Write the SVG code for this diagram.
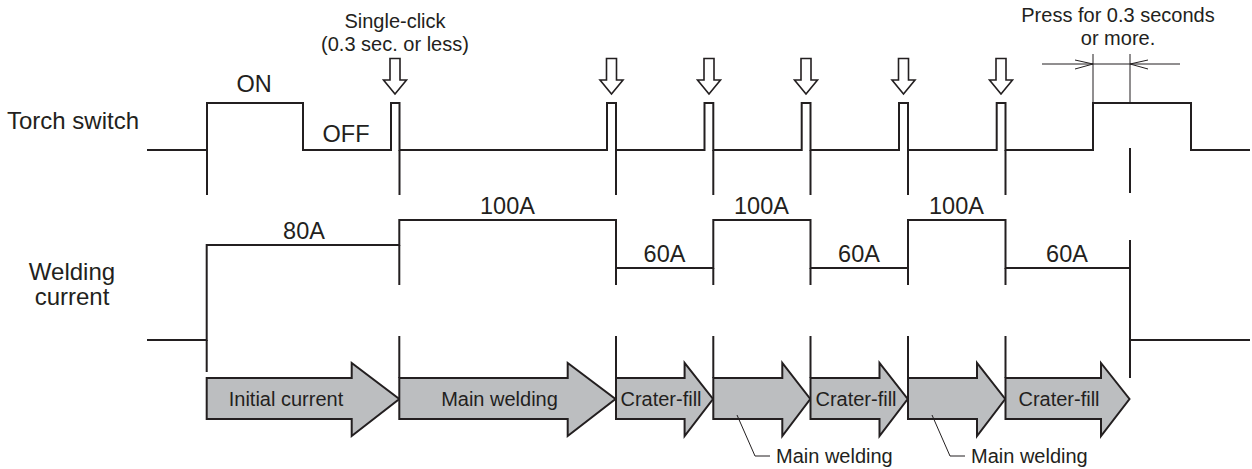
<svg xmlns="http://www.w3.org/2000/svg" width="1252" height="469" viewBox="0 0 1252 469">
<style>
.ln{fill:none;stroke:#231f20;stroke-width:2}
.th{fill:none;stroke:#231f20;stroke-width:1}
.t{font-family:"Liberation Sans",Arial,sans-serif;font-size:20px;fill:#231f20}
.big{font-size:23.5px}
.lab{font-family:"Liberation Sans",Arial,sans-serif;font-size:24px;fill:#231f20}
.m{text-anchor:middle}
.ar{fill:#bcbec0;stroke:#231f20;stroke-width:2;stroke-linejoin:miter}
.dn{fill:#fff;stroke:#231f20;stroke-width:1.6}
</style>
<defs>
<path id="down" d="M-5,58.5 H5 V80 H11.5 L0,94 L-11.5,80 H-5 Z" class="dn"/>
</defs>
<rect width="1252" height="469" fill="#fff"/>
<g id="labels">
<text class="lab" x="7" y="129">Torch switch</text>
<text class="lab m" x="72" y="280">Welding</text>
<text class="lab m" x="72" y="305">current</text>
</g>
<g id="torch-switch">
<path class="ln" d="M147,150 H207 V103 H303 V150 H391 V103 H399.5 V150 H607 V103 H616 V150 H704.5 V103 H713.3 V150 H801.7 V103 H810.5 V150 H899 V103 H908 V150 H996.7 V103 H1005.5 V150 H1093 V103 H1191 V150 H1250"/>
<text class="t big m" x="254" y="92">ON</text>
<text class="t big m" x="346" y="142">OFF</text>
</g>
<g id="click-arrows">
<use href="#down" x="395" y="0"/>
<use href="#down" x="611.5" y="0"/>
<use href="#down" x="709" y="0"/>
<use href="#down" x="806" y="0"/>
<use href="#down" x="903.5" y="0"/>
<use href="#down" x="1001" y="0"/>
<text class="t m" x="395" y="28">Single-click</text>
<text class="t m" x="395" y="51">(0.3 sec. or less)</text>
</g>
<g id="long-press">
<text class="t m" x="1118" y="22">Press for 0.3 seconds</text>
<text class="t m" x="1118" y="45">or more.</text>
<path class="th" d="M1093,54 V103 M1130,54 V103 M1042,64 H1180 M1075,60 L1093,64 L1075,69 M1148,60 L1130,64 L1148,69"/>
</g>
<g id="ticks">
<path class="ln" d="M207,150 V195 M399.5,150 V195 M616,150 V195 M713.3,150 V195 M810.5,150 V195 M908,150 V195 M1005.5,150 V195 M1130,148 V193"/>
</g>
<g id="welding-current">
<path class="ln" d="M147,340 H206.7 V245 H399.3 V220 H616 V268 H713.3 V220 H810.5 V268 H908 V220 H1005.5 V268 H1130 V340 H1250"/>
<path class="ln" d="M206.7,340 V372 M399.3,245 V285 M616,268 V285 M713.3,268 V285 M810.5,268 V285 M908,268 V285 M1005.5,268 V285 M1130,240 V268 M1130,340 V378"/>
<path class="ln" d="M399.3,336 V378 M616,336 V378 M713.3,336 V378 M810.5,336 V378 M908,336 V378 M1005.5,336 V378"/>
<text class="t big m" x="304" y="239">80A</text>
<text class="t big m" x="507.5" y="214">100A</text>
<text class="t big m" x="761.5" y="214">100A</text>
<text class="t big m" x="956.5" y="214">100A</text>
<text class="t big m" x="664.5" y="262">60A</text>
<text class="t big m" x="859" y="262">60A</text>
<text class="t big m" x="1067" y="262">60A</text>
</g>
<g id="phase-initial">
<polygon class="ar" points="206.7,378 351.7,378 351.7,363 399.3,399 351.7,436 351.7,419 206.7,419"/>
<text class="t m" x="286" y="406">Initial current</text>
</g>
<g id="phase-main1">
<polygon class="ar" points="399.3,378 567.7,378 567.7,363 615.5,399 567.7,436 567.7,419 399.3,419"/>
<text class="t m" x="499.5" y="406">Main welding</text>
</g>
<g id="phase-crater1">
<polygon class="ar" points="616,378 684.6,378 684.6,363 713,399 684.6,436 684.6,419 616,419"/>
<text class="t m" x="661" y="406">Crater-fill</text>
</g>
<g id="phase-main2">
<polygon class="ar" points="713.3,378 782.3,378 782.3,363 810.3,399 782.3,436 782.3,419 713.3,419"/>
</g>
<g id="phase-crater2">
<polygon class="ar" points="810.5,378 879.5,378 879.5,363 907.7,399 879.5,436 879.5,419 810.5,419"/>
<text class="t m" x="856" y="406">Crater-fill</text>
</g>
<g id="phase-main3">
<polygon class="ar" points="908,378 977,378 977,363 1005.2,399 977,436 977,419 908,419"/>
</g>
<g id="phase-crater3">
<polygon class="ar" points="1005.5,378 1101,378 1101,363 1129.5,399 1101,436 1101,419 1005.5,419"/>
<text class="t m" x="1059" y="406">Crater-fill</text>
</g>
<g id="leaders">
<path class="th" d="M737,415 L755,456 H770 M932,415 L950,456 H965"/>
<text class="t" x="776" y="463">Main welding</text>
<text class="t" x="971" y="463">Main welding</text>
</g>
</svg>
